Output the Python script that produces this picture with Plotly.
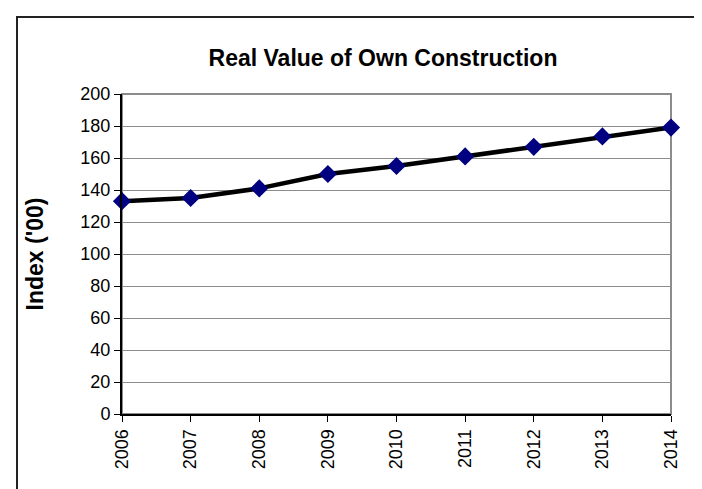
import plotly.graph_objects as go

years = [2006, 2007, 2008, 2009, 2010, 2011, 2012, 2013, 2014]
year_labels = [str(y) for y in years]
index_values = [133, 135, 141, 150, 155, 161, 167, 173.5, 179]
y_ticks = [0, 20, 40, 60, 80, 100, 120, 140, 160, 180, 200]

FONT = "Liberation Sans, Arial, sans-serif"

fig = go.Figure()
fig.add_trace(go.Scatter(
    x=years, y=index_values, mode="lines+markers",
    line=dict(color="black", width=4.5),
    marker=dict(symbol="diamond", size=14, color="#000080",
                line=dict(width=0)),
    cliponaxis=False, showlegend=False,
))

W, H = 702, 489
L, R, T, B = 114, 39, 86, 83
pw, ph = W - L - R, H - T - B

fig.update_layout(
    width=W, height=H,
    margin=dict(l=L, r=R, t=T, b=B),
    paper_bgcolor="white", plot_bgcolor="white",
    font=dict(family=FONT, color="black"),
    title=dict(text="<b>Real Value of Own Construction</b>",
               font=dict(family=FONT, size=23, color="black"),
               x=375 / W, xref="container", xanchor="center",
               y=1 - 50 / H, yref="container", yanchor="middle"),
    xaxis=dict(range=[2006, 2014], tickmode="array", tickvals=years,
               ticktext=year_labels, tickangle=-90,
               tickfont=dict(size=18, family=FONT),
               showgrid=False, zeroline=False,
               showline=True, linecolor="black", linewidth=2,
               ticks="outside", ticklen=6, tickcolor="black", tickwidth=1),
    yaxis=dict(range=[0, 200], tickmode="array", tickvals=y_ticks,
               tickfont=dict(size=18, family=FONT),
               showgrid=True, gridcolor="#8c8c8c", gridwidth=1,
               zeroline=False,
               showline=True, linecolor="black", linewidth=2,
               ticks="outside", ticklen=6, tickcolor="black", tickwidth=1,
               title=dict(text="<b>Index ('00)</b>",
                          font=dict(size=23, family=FONT), standoff=30)),
    shapes=[
        dict(type="rect", xref="paper", yref="paper", x0=0, x1=1, y0=0, y1=1,
             line=dict(color="#8c8c8c", width=2), layer="below"),
        dict(type="rect", xref="paper", yref="paper",
             x0=(9 - L) / pw, x1=1.2, y0=-0.5, y1=(H - B - 9) / ph,
             line=dict(color="#222222", width=2), layer="above"),
    ],
)

fig.write_html("out.html")
